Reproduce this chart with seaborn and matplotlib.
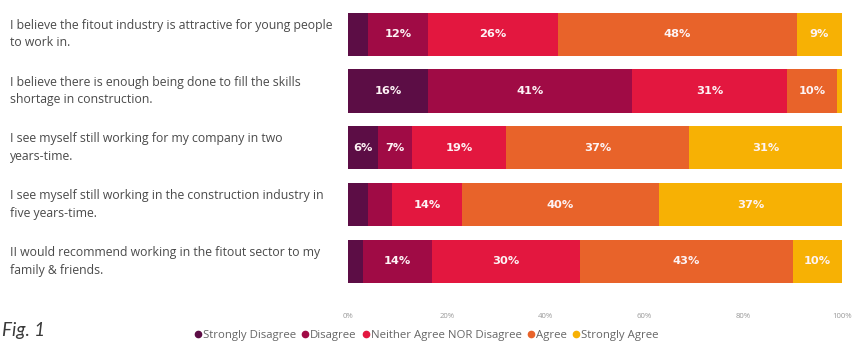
import numpy as np
import pandas as pd
import matplotlib
matplotlib.use("Agg")
import matplotlib.pyplot as plt
import seaborn as sns

# Survey statements (one stacked bar each)
statements = [
    "I believe the fitout industry is attractive for young people\nto work in.",
    "I believe there is enough being done to fill the skills\nshortage in construction.",
    "I see myself still working for my company in two\nyears-time.",
    "I see myself still working in the construction industry in\nfive years-time.",
    "II would recommend working in the fitout sector to my\nfamily & friends.",
]

# Response categories, in stacking order
responses = ["Strongly Disagree", "Disagree", "Neither Agree NOR Disagree",
             "Agree", "Strongly Agree"]
colors = ["#5C0D45", "#A00B45", "#E3173F", "#E8632A", "#F7B104"]

# Percentage of respondents per answer, one list per response category
strongly_disagree = [4, 16, 6, 4, 3]
disagree = [12, 41, 7, 5, 14]
neither = [26, 31, 19, 14, 30]
agree = [48, 10, 37, 40, 43]
strongly_agree = [9, 1, 31, 37, 10]

tick_values = [0, 20, 40, 60, 80, 100]
tick_labels = ["0%", "20%", "40%", "60%", "80%", "100%"]

sns.set_theme(style="white")
plt.rcParams["font.family"] = ["Open Sans", "DejaVu Sans"]

values = np.array([strongly_disagree, disagree, neither, agree, strongly_agree],
                  dtype=float).T
# 100% stacked: each row scaled to its own total
shares = values / values.sum(axis=1, keepdims=True) * 100
cum = shares.cumsum(axis=1)

fig = plt.figure(figsize=(8.57, 3.42), dpi=100)
ax = fig.add_axes([0.406, 0.153, 0.5765, 0.830])

# Layer cumulative totals from the full bar down to the first segment
for j in range(len(responses) - 1, -1, -1):
    df = pd.DataFrame({"statement": statements, "total": cum[:, j]})
    sns.barplot(data=df, x="total", y="statement", orient="h",
                color=colors[j], saturation=1, width=0.76,
                linewidth=0, ax=ax)

# Value labels centred in each segment
for i in range(len(statements)):
    for j in range(len(responses)):
        v = values[i, j]
        if v >= 6:
            xc = cum[i, j] - shares[i, j] / 2
            ax.text(xc, i, f"{int(v)}%", ha="center", va="center",
                    color="#FDF3F5", fontsize=8.2, fontweight="bold",
                    family="DejaVu Sans")

# Statement text, left aligned at the figure edge
for i, s in enumerate(statements):
    ax.text(-0.684, i, s, transform=ax.get_yaxis_transform(),
            ha="left", va="center", fontsize=8.8, color="#4a4a4a",
            linespacing=1.45)

ax.set_xlim(0, 100)
ax.set_ylim(4.5, -0.5)
ax.set_xticks(tick_values)
ax.set_xticklabels(tick_labels)
ax.tick_params(axis="x", length=0, pad=17, labelsize=5.6, labelcolor="#9a9a9a")
ax.set_yticks([])
ax.set_xlabel("")
ax.set_ylabel("")
for sp in ax.spines.values():
    sp.set_visible(False)

# Legend along the bottom
handles = [plt.Line2D([], [], marker="o", linestyle="", markersize=4.5,
                      markerfacecolor=c, markeredgecolor=c) for c in colors]
fig.legend(handles, responses, loc="center", bbox_to_anchor=(0.497, 0.018),
           ncol=5, frameon=False, fontsize=8.2, handletextpad=0.0,
           columnspacing=0.45, labelcolor="#666666", handlelength=0.8)

fig.text(0.002, 0.035, "Fig. 1", fontsize=13.5, style="italic",
         color="#3a3a3a", family=["Lato", "DejaVu Sans"],
         ha="left", va="center")

fig.savefig("out.png", dpi=100)
